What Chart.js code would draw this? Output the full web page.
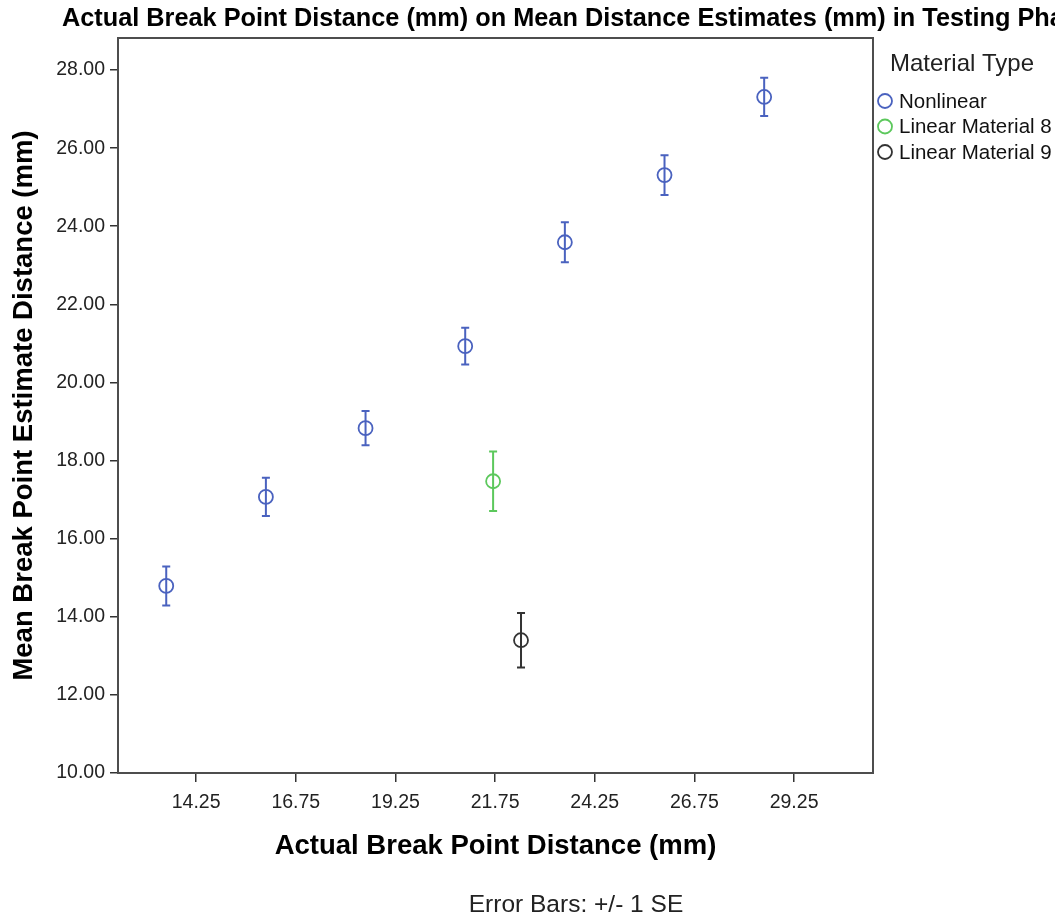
<!DOCTYPE html>
<html>
<head>
<meta charset="utf-8">
<script src="https://cdn.jsdelivr.net/npm/chart.js@4.4.1/dist/chart.umd.min.js"></script>
<style>
  html, body { margin: 0; padding: 0; background: #fff; }
  #wrap { width: 1055px; height: 918px; }
</style>
</head>
<body>
<div id="wrap"><canvas id="myChart" width="1055" height="918"></canvas></div>
<script>
// data
const xTicks = [14.25, 16.75, 19.25, 21.75, 24.25, 26.75, 29.25];
const yTicks = [10, 12, 14, 16, 18, 20, 22, 24, 26, 28];

const nonlinearX = [13.5, 16, 18.5, 21, 23.5, 26, 28.5];
const nonlinearMean = [14.79, 17.07, 18.83, 20.93, 23.59, 25.31, 27.31];
const nonlinearSE = [0.50, 0.49, 0.44, 0.47, 0.51, 0.51, 0.49];

const linear8X = [21.7];
const linear8Mean = [17.47];
const linear8SE = [0.76];

const linear9X = [22.4];
const linear9Mean = [13.40];
const linear9SE = [0.70];

const seriesNames = ['Nonlinear', 'Linear Material 8', 'Linear Material 9'];
const seriesColors = ['#4a62bf', '#5cc85c', '#333333'];

const FONT = "'Liberation Sans', Arial, sans-serif";

function toPoints(xs, ys) {
  return xs.map((x, i) => ({ x: x, y: ys[i] }));
}

const errors = [nonlinearSE, linear8SE, linear9SE];

// error bars, drawn through the scales
const errorBars = {
  id: 'errorBars',
  afterDatasetsDraw(chart) {
    const ctx = chart.ctx;
    const xs = chart.scales.x, ys = chart.scales.y;
    chart.data.datasets.forEach((ds, i) => {
      ctx.save();
      ctx.strokeStyle = ds.borderColor;
      ctx.lineWidth = 2;
      ds.data.forEach((p, j) => {
        const se = errors[i][j];
        const px = xs.getPixelForValue(p.x);
        const top = ys.getPixelForValue(p.y + se);
        const bot = ys.getPixelForValue(p.y - se);
        ctx.beginPath();
        ctx.moveTo(px, top); ctx.lineTo(px, bot);
        ctx.moveTo(px - 4, top); ctx.lineTo(px + 4, top);
        ctx.moveTo(px - 4, bot); ctx.lineTo(px + 4, bot);
        ctx.stroke();
      });
      ctx.restore();
    });
  }
};

// frame, title, legend and footnote
const decor = {
  id: 'decor',
  afterDraw(chart) {
    const ctx = chart.ctx;
    const a = chart.chartArea;
    ctx.save();
    ctx.strokeStyle = '#4d4d4d';
    ctx.lineWidth = 2;
    ctx.strokeRect(a.left, a.top, a.right - a.left, a.bottom - a.top);

    ctx.fillStyle = '#000';
    ctx.textBaseline = 'middle';
    ctx.textAlign = 'left';
    ctx.font = 'bold 25.3px ' + FONT;
    ctx.fillText('Actual Break Point Distance (mm) on Mean Distance Estimates (mm) in Testing Phase', 62, 19);

    ctx.fillStyle = '#222';
    ctx.font = '24px ' + FONT;
    ctx.fillText('Material Type', 890, 64);
    ctx.font = '20.5px ' + FONT;
    seriesNames.forEach((name, i) => {
      const y = 101 + i * 25.5;
      ctx.beginPath();
      ctx.strokeStyle = seriesColors[i];
      ctx.lineWidth = 1.8;
      ctx.arc(885, y, 7, 0, Math.PI * 2);
      ctx.stroke();
      ctx.fillStyle = '#111';
      ctx.fillText(name, 899, y + 1);
    });

    ctx.textAlign = 'center';
    ctx.fillStyle = '#222';
    ctx.font = '24.5px ' + FONT;
    ctx.fillText('Error Bars: +/- 1 SE', 576, 905);
    ctx.restore();
  }
};

const datasets = [
  toPoints(nonlinearX, nonlinearMean),
  toPoints(linear8X, linear8Mean),
  toPoints(linear9X, linear9Mean)
].map((pts, i) => ({
  label: seriesNames[i],
  data: pts,
  borderColor: seriesColors[i],
  backgroundColor: 'rgba(0,0,0,0)',
  pointRadius: 7,
  pointHoverRadius: 7,
  pointBorderWidth: 1.8,
  showLine: false
}));

const ctx = document.getElementById('myChart');

new Chart(ctx, {
  type: 'scatter',
  data: { datasets: datasets },
  plugins: [errorBars, decor],
  options: {
    responsive: false,
    animation: false,
    layout: { padding: { left: 0, right: 182, top: 38, bottom: 0 } },
    plugins: {
      legend: { display: false },
      tooltip: { enabled: false }
    },
    scales: {
      x: {
        type: 'linear',
        min: 12.29,
        max: 31.23,
        afterBuildTicks: s => { s.ticks = xTicks.map(v => ({ value: v })); },
        afterFit: s => { s.height = 145; },
        grid: { drawOnChartArea: false, drawTicks: true, tickLength: 9, color: '#333', lineWidth: 1.5 },
        border: { display: true, color: '#4d4d4d', width: 2 },
        ticks: {
          padding: 9,
          color: '#222',
          font: { family: FONT, size: 19.5 },
          callback: v => v.toFixed(2)
        },
        title: {
          display: true,
          text: 'Actual Break Point Distance (mm)',
          color: '#000',
          font: { family: FONT, size: 27.5, weight: 'bold' },
          padding: { top: 0, bottom: 55 }
        }
      },
      y: {
        type: 'linear',
        min: 10,
        max: 28.82,
        afterBuildTicks: s => { s.ticks = yTicks.map(v => ({ value: v })); },
        afterFit: s => { s.width = 118; },
        grid: { drawOnChartArea: false, drawTicks: true, tickLength: 8, color: '#333', lineWidth: 1.5 },
        border: { display: true, color: '#4d4d4d', width: 2 },
        ticks: {
          padding: 5,
          color: '#222',
          font: { family: FONT, size: 19.5 },
          callback: v => v.toFixed(2)
        },
        title: {
          display: true,
          text: 'Mean Break Point Estimate Distance (mm)',
          color: '#000',
          font: { family: FONT, size: 27.5, weight: 'bold' },
          padding: { top: 8, bottom: 0 }
        }
      }
    }
  }
});
</script>
</body>
</html>
